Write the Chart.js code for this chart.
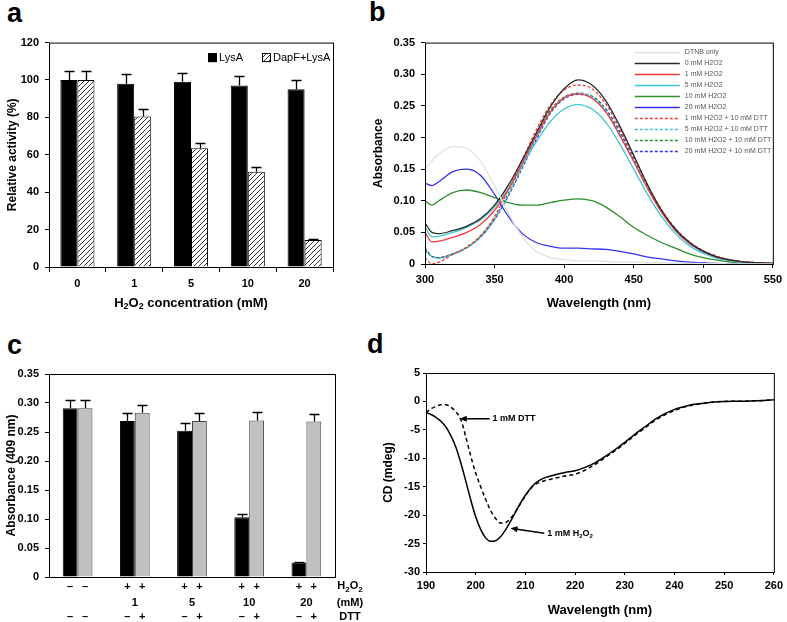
<!DOCTYPE html>
<html>
<head>
<meta charset="utf-8">
<script src="https://cdn.jsdelivr.net/npm/chart.js@4.4.1/dist/chart.umd.min.js"></script>
<style>
body { margin: 0; background: #fff; }
#wrap { position: relative; width: 787px; height: 622px; overflow: hidden; }
canvas { position: absolute; }
.tag { position: absolute; font: bold 27px "Liberation Sans", Arial, sans-serif; line-height: 27px; color: #000; }
</style>
</head>
<body>
<div id="wrap">
  <div class="tag" style="left:7px;top:0px">a</div>
  <div class="tag" style="left:369px;top:-1px">b</div>
  <div class="tag" style="left:7px;top:332px">c</div>
  <div class="tag" style="left:367px;top:331px">d</div>
  <canvas id="cA" width="345" height="290" style="left:0;top:30px"></canvas>
  <canvas id="cB" width="442" height="290" style="left:345px;top:30px"></canvas>
  <canvas id="cC" width="400" height="302" style="left:0;top:320px"></canvas>
  <canvas id="cD" width="442" height="302" style="left:345px;top:320px"></canvas>
</div>
<script>
// ---- panel a : relative activity ----
const concLabels = ['0', '1', '5', '10', '20'];
const lysA = [100, 98, 99, 97, 95];
const lysAErr = [5, 5, 5, 5, 4.8];
const dapfLysA = [100, 80.5, 63.5, 51, 14.5];
const dapfLysAErr = [5, 4, 3, 2.7, 0.7];

// ---- panel b : spectra ----
const wl = [300, 305, 310, 320, 330, 340, 350, 360, 370, 380, 390, 400, 410, 420, 430, 440, 450, 460, 470, 480, 490, 500, 510, 520, 530, 540, 550];
const dtnbOnly = [0.150, 0.163, 0.174, 0.186, 0.183, 0.162, 0.124, 0.080, 0.043, 0.020, 0.010, 0.007, 0.005, 0.005, 0.004, 0.003, 0.003, 0.002, 0.002, 0.001, 0.001, 0.001, 0.001, 0, 0, 0, 0];
const h0 = [0.065, 0.050, 0.048, 0.053, 0.060, 0.072, 0.093, 0.125, 0.165, 0.207, 0.248, 0.277, 0.291, 0.283, 0.258, 0.218, 0.172, 0.125, 0.085, 0.055, 0.034, 0.020, 0.011, 0.006, 0.003, 0.002, 0.001];
const h1 = [0.050, 0.035, 0.036, 0.042, 0.050, 0.063, 0.085, 0.118, 0.160, 0.202, 0.240, 0.263, 0.269, 0.262, 0.240, 0.203, 0.162, 0.119, 0.082, 0.053, 0.033, 0.020, 0.011, 0.006, 0.003, 0.002, 0.001];
const h5 = [0.058, 0.043, 0.044, 0.050, 0.058, 0.070, 0.090, 0.120, 0.157, 0.193, 0.225, 0.245, 0.252, 0.245, 0.224, 0.190, 0.150, 0.110, 0.075, 0.048, 0.029, 0.017, 0.009, 0.005, 0.002, 0.001, 0.001];
const h10 = [0.100, 0.093, 0.100, 0.113, 0.117, 0.113, 0.105, 0.097, 0.093, 0.093, 0.097, 0.101, 0.103, 0.100, 0.090, 0.075, 0.058, 0.045, 0.034, 0.025, 0.016, 0.010, 0.006, 0.003, 0.002, 0.001, 0.001];
const h20 = [0.128, 0.124, 0.130, 0.146, 0.150, 0.140, 0.110, 0.075, 0.048, 0.034, 0.028, 0.025, 0.025, 0.024, 0.023, 0.020, 0.016, 0.011, 0.008, 0.005, 0.003, 0.002, 0.001, 0, 0, 0, 0];
const h1Dtt = [0.010, 0.000, 0.003, 0.015, 0.027, 0.045, 0.075, 0.118, 0.165, 0.212, 0.251, 0.275, 0.283, 0.277, 0.253, 0.214, 0.170, 0.125, 0.086, 0.056, 0.035, 0.021, 0.012, 0.006, 0.003, 0.002, 0.001];
const h5Dtt = [0.020, 0.012, 0.009, 0.015, 0.025, 0.042, 0.070, 0.110, 0.155, 0.200, 0.240, 0.262, 0.270, 0.264, 0.242, 0.205, 0.163, 0.120, 0.082, 0.053, 0.033, 0.019, 0.011, 0.006, 0.003, 0.002, 0.001];
const h10Dtt = [0.022, 0.012, 0.010, 0.016, 0.026, 0.044, 0.072, 0.112, 0.158, 0.203, 0.243, 0.264, 0.270, 0.265, 0.243, 0.206, 0.164, 0.121, 0.083, 0.054, 0.034, 0.020, 0.011, 0.006, 0.003, 0.002, 0.001];
const h20Dtt = [0.025, 0.012, 0.010, 0.016, 0.026, 0.043, 0.070, 0.108, 0.152, 0.197, 0.238, 0.261, 0.268, 0.265, 0.245, 0.209, 0.167, 0.123, 0.085, 0.055, 0.035, 0.021, 0.012, 0.006, 0.003, 0.002, 0.001];

// ---- panel c : absorbance at 409 nm ----
const mmLabels = ['', '1', '5', '10', '20'];
const noDtt = [0.291, 0.269, 0.252, 0.103, 0.025];
const noDttErr = [0.015, 0.014, 0.013, 0.005, 0.001];
const withDtt = [0.291, 0.283, 0.269, 0.270, 0.268];
const withDttErr = [0.015, 0.014, 0.013, 0.014, 0.013];
const h2o2Signs = [['–', '–'], ['+', '+'], ['+', '+'], ['+', '+'], ['+', '+']];
const dttSigns = [['–', '–'], ['–', '+'], ['–', '+'], ['–', '+'], ['–', '+']];

// ---- panel d : CD spectra ----
const cdWl = [190, 191, 192, 193, 194, 195, 196, 197, 198, 199, 200, 201, 202, 203, 204, 205, 206, 207, 208, 209, 210, 211, 212, 213, 214, 216, 218, 220, 222, 224, 226, 228, 230, 232, 234, 236, 238, 240, 242, 244, 246, 248, 250, 252, 254, 256, 258, 260];
const cdH2o2 = [-2.0, -2.3, -2.8, -3.5, -4.5, -6.0, -8.0, -10.8, -14.0, -17.3, -20.3, -22.5, -24.0, -24.6, -24.5, -23.8, -22.6, -21.1, -19.5, -17.9, -16.5, -15.3, -14.4, -13.8, -13.4, -12.9, -12.5, -12.2, -11.6, -10.8, -9.7, -8.5, -7.2, -5.8, -4.5, -3.2, -2.2, -1.4, -0.9, -0.5, -0.3, -0.1, 0, 0.05, 0.05, 0.1, 0.15, 0.3];
const cdDtt = [-2.0, -1.3, -0.9, -0.6, -0.6, -1.0, -1.8, -3.2, -6.2, -9.6, -12.6, -15.0, -17.2, -19.2, -20.6, -21.4, -21.3, -20.6, -19.4, -18.0, -16.6, -15.4, -14.6, -14.2, -13.9, -13.5, -13.1, -12.8, -12.1, -11.1, -9.9, -8.7, -7.4, -6.0, -4.7, -3.4, -2.4, -1.6, -1.0, -0.6, -0.3, -0.1, 0, 0.05, 0.05, 0.1, 0.15, 0.3];

Chart.defaults.font.family = 'Arial, "Liberation Sans", sans-serif';
Chart.defaults.color = '#000';
const FONT = 'Arial, "Liberation Sans", sans-serif';
const tickFont = { size: 11, weight: 'bold' };

// texto con subindices: partes [texto, esSub]
function drawRich(ctx, parts, x, y, size, align) {
  const big = 'bold ' + size + 'px ' + FONT;
  const small = 'bold ' + Math.round(size * 0.7) + 'px ' + FONT;
  let w = 0;
  parts.forEach(p => { ctx.font = p[1] ? small : big; w += ctx.measureText(p[0]).width; });
  let cx = align === 'center' ? x - w / 2 : x;
  ctx.textAlign = 'left';
  ctx.textBaseline = 'middle';
  parts.forEach(p => {
    ctx.font = p[1] ? small : big;
    ctx.fillText(p[0], cx, p[1] ? y + size * 0.3 : y);
    cx += ctx.measureText(p[0]).width;
  });
}

// marco alrededor del area
const framePlugin = {
  id: 'frame',
  afterDraw(chart) {
    const { ctx, chartArea: a } = chart;
    ctx.save();
    ctx.strokeStyle = '#000';
    ctx.lineWidth = 1;
    ctx.strokeRect(a.left + 0.5, a.top + 0.5, a.right - a.left, a.bottom - a.top);
    ctx.restore();
  }
};

// barras de error (solo hacia arriba)
const errorBars = {
  id: 'errorBars',
  afterDatasetsDraw(chart) {
    const { ctx } = chart;
    const y = chart.scales.y;
    ctx.save();
    ctx.strokeStyle = '#000';
    ctx.lineWidth = 1.3;
    chart.data.datasets.forEach((ds, i) => {
      chart.getDatasetMeta(i).data.forEach((bar, j) => {
        const top = Math.round(y.getPixelForValue(ds.data[j] + ds.errors[j])) + 0.5;
        const x = Math.round(bar.x) + 0.5;
        ctx.beginPath();
        ctx.moveTo(x, bar.y);
        ctx.lineTo(x, top);
        ctx.moveTo(x - 5, top);
        ctx.lineTo(x + 5, top);
        ctx.stroke();
      });
    });
    ctx.restore();
  }
};

function hatchPattern() {
  const c = document.createElement('canvas');
  c.width = 5; c.height = 5;
  const g = c.getContext('2d');
  g.fillStyle = '#fff';
  g.fillRect(0, 0, 5, 5);
  g.strokeStyle = '#333';
  g.lineWidth = 1;
  g.beginPath();
  g.moveTo(0, 5); g.lineTo(5, 0);
  g.moveTo(-1, 1); g.lineTo(1, -1);
  g.moveTo(4, 6); g.lineTo(6, 4);
  g.stroke();
  return g.createPattern(c, 'repeat');
}

const axisGrid = { drawOnChartArea: false, drawTicks: true, tickLength: 4, color: '#000' };

// ================= a =================
const legendA = {
  id: 'legendA',
  afterDraw(chart) {
    const { ctx, chartArea: a } = chart;
    const xs = [a.left + 159, a.left + 213];
    ctx.save();
    chart.data.datasets.forEach((ds, i) => {
      const x = xs[i], y = a.top + 15;
      ctx.fillStyle = ds.backgroundColor;
      ctx.fillRect(x, y - 4.5, 9, 9);
      ctx.strokeStyle = '#000';
      ctx.lineWidth = 1;
      ctx.strokeRect(x + 0.5, y - 4, 8, 8);
      ctx.fillStyle = '#000';
      ctx.font = '11px ' + FONT;
      ctx.textAlign = 'left';
      ctx.textBaseline = 'middle';
      ctx.fillText(ds.label, x + 11, y);
    });
    // titulo del eje x
    drawRich(ctx, [['H', 0], ['2', 1], ['O', 0], ['2', 1], [' concentration (mM)', 0]],
      (a.left + a.right) / 2, a.bottom + 36, 13, 'center');
    ctx.restore();
  }
};

new Chart(document.getElementById('cA'), {
  type: 'bar',
  data: {
    labels: concLabels,
    datasets: [
      { label: 'LysA', data: lysA, errors: lysAErr, backgroundColor: '#000', borderColor: '#000', borderWidth: 1 },
      { label: 'DapF+LysA', data: dapfLysA, errors: dapfLysAErr, backgroundColor: hatchPattern(), borderColor: '#000', borderWidth: 1 }
    ]
  },
  options: {
    responsive: false,
    animation: false,
    layout: { padding: { top: 12, right: 12, left: 0, bottom: 0 } },
    datasets: { bar: { barPercentage: 1, categoryPercentage: 0.6 } },
    scales: {
      x: {
        grid: { ...axisGrid, offset: true, tickLength: 5 },
        border: { display: false },
        ticks: { font: tickFont, padding: 5 },
        afterFit(s) { s.height = 53; }
      },
      y: {
        min: 0, max: 120,
        grid: axisGrid,
        border: { display: false },
        ticks: { stepSize: 20, font: tickFont, padding: 6 },
        title: { display: true, text: 'Relative activity (%)', font: { size: 12, weight: 'bold' }, padding: { top: 5, bottom: 0 } },
        afterFit(s) { s.width = 49; }
      }
    },
    plugins: { legend: { display: false }, tooltip: { enabled: false } }
  },
  plugins: [errorBars, framePlugin, legendA]
});

// ================= b =================
const specSeries = [
  { label: 'DTNB only', values: dtnbOnly, color: '#e2e2e2', dash: [] },
  { label: '0 mM H2O2', values: h0, color: '#2a2a2a', dash: [] },
  { label: '1 mM H2O2', values: h1, color: '#f03c3c', dash: [] },
  { label: '5 mM H2O2', values: h5, color: '#3ec3d3', dash: [] },
  { label: '10 mM H2O2', values: h10, color: '#2e8f2e', dash: [] },
  { label: '20 mM H2O2', values: h20, color: '#3434f0', dash: [] },
  { label: '1 mM H2O2 + 10 mM DTT', values: h1Dtt, color: '#f03c3c', dash: [3, 2] },
  { label: '5 mM H2O2 + 10 mM DTT', values: h5Dtt, color: '#3ec3d3', dash: [3, 2] },
  { label: '10 mM H2O2 + 10 mM DTT', values: h10Dtt, color: '#2e8f2e', dash: [3, 2] },
  { label: '20 mM H2O2 + 10 mM DTT', values: h20Dtt, color: '#3434f0', dash: [3, 2] }
];

const legendB = {
  id: 'legendB',
  afterDraw(chart) {
    const { ctx, chartArea: a } = chart;
    ctx.save();
    chart.data.datasets.forEach((ds, i) => {
      const y = Math.round(a.top + 9 + 11 * i) + 0.5;
      ctx.strokeStyle = ds.borderColor;
      ctx.lineWidth = 1.5;
      ctx.setLineDash(ds.borderDash || []);
      ctx.beginPath();
      ctx.moveTo(a.right - 138, y);
      ctx.lineTo(a.right - 93, y);
      ctx.stroke();
      ctx.setLineDash([]);
      ctx.fillStyle = '#555';
      ctx.font = '7px ' + FONT;
      ctx.textAlign = 'left';
      ctx.textBaseline = 'middle';
      ctx.fillText(ds.label, a.right - 88, y);
    });
    ctx.restore();
  }
};

new Chart(document.getElementById('cB'), {
  type: 'line',
  data: {
    datasets: specSeries.map(s => ({
      label: s.label,
      data: wl.map((w, i) => ({ x: w, y: s.values[i] })),
      borderColor: s.color,
      borderDash: s.dash,
      borderWidth: 1.3,
      pointRadius: 0,
      fill: false,
      cubicInterpolationMode: 'monotone'
    }))
  },
  options: {
    responsive: false,
    animation: false,
    layout: { padding: { top: 11, right: 12, left: 0, bottom: 0 } },
    scales: {
      x: {
        type: 'linear', min: 300, max: 550,
        grid: axisGrid,
        border: { display: false },
        ticks: { stepSize: 50, font: tickFont, padding: 5 },
        title: { display: true, text: 'Wavelength (nm)', font: { size: 13, weight: 'bold' }, padding: { top: 0, bottom: 9 } },
        afterFit(s) { s.height = 56; }
      },
      y: {
        min: 0, max: 0.35,
        grid: axisGrid,
        border: { display: false },
        ticks: { stepSize: 0.05, font: tickFont, padding: 6 },
        title: { display: true, text: 'Absorbance', font: { size: 12, weight: 'bold' }, padding: { top: 26, bottom: 0 } },
        afterFit(s) { s.width = 80; }
      }
    },
    plugins: { legend: { display: false }, tooltip: { enabled: false } }
  },
  plugins: [framePlugin, legendB]
});

// ================= c =================
const condLabels = {
  id: 'condLabels',
  afterDraw(chart) {
    const { ctx, chartArea: a } = chart;
    const m0 = chart.getDatasetMeta(0).data;
    const m1 = chart.getDatasetMeta(1).data;
    ctx.save();
    ctx.fillStyle = '#000';
    mmLabels.forEach((g, j) => {
      const xs = [m0[j].x, m1[j].x];
      ctx.font = 'bold 11px ' + FONT;
      ctx.textAlign = 'center';
      ctx.textBaseline = 'middle';
      xs.forEach((x, k) => {
        ctx.fillText(h2o2Signs[j][k], x, a.bottom + 10);
        ctx.fillText(dttSigns[j][k], x, a.bottom + 40);
      });
      ctx.fillText(g, (xs[0] + xs[1]) / 2, a.bottom + 26);
    });
    drawRich(ctx, [['H', 0], ['2', 1], ['O', 0], ['2', 1]], a.right + 15, a.bottom + 9, 11, 'center');
    ctx.font = 'bold 11px ' + FONT;
    ctx.textAlign = 'center';
    ctx.fillText('(mM)', a.right + 15, a.bottom + 26);
    ctx.fillText('DTT', a.right + 15, a.bottom + 40);
    ctx.restore();
  }
};

new Chart(document.getElementById('cC'), {
  type: 'bar',
  data: {
    labels: mmLabels,
    datasets: [
      { label: 'no DTT', data: noDtt, errors: noDttErr, backgroundColor: '#000', borderColor: '#000', borderWidth: 1 },
      { label: 'DTT', data: withDtt, errors: withDttErr, backgroundColor: '#c0c0c0', borderColor: '#444', borderWidth: 1 }
    ]
  },
  options: {
    responsive: false,
    animation: false,
    layout: { padding: { top: 54, right: 65, left: 0, bottom: 0 } },
    datasets: { bar: { barPercentage: 1, categoryPercentage: 0.52 } },
    scales: {
      x: {
        grid: { display: false },
        border: { display: false },
        ticks: { display: false },
        afterFit(s) { s.height = 45; }
      },
      y: {
        min: 0, max: 0.35,
        grid: axisGrid,
        border: { display: false },
        ticks: { stepSize: 0.05, font: tickFont, padding: 6 },
        title: { display: true, text: 'Absorbance (409 nm)', font: { size: 12, weight: 'bold' }, padding: { top: 4, bottom: 0 } },
        afterFit(s) { s.width = 49; }
      }
    },
    plugins: { legend: { display: false }, tooltip: { enabled: false } }
  },
  plugins: [errorBars, framePlugin, condLabels]
});

// ================= d =================
const cdNotes = [
  { parts: [['1 mM DTT', 0]], head: [196.8, -3.05], tail: [202.8, -3.05] },
  { parts: [['1 mM H', 0], ['2', 1], ['O', 0], ['2', 1]], head: [207.0, -22.3], tail: [213.8, -23.2] }
];

const arrows = {
  id: 'arrows',
  afterDraw(chart) {
    const { ctx } = chart;
    const sx = chart.scales.x, sy = chart.scales.y;
    ctx.save();
    ctx.fillStyle = '#000';
    ctx.strokeStyle = '#000';
    ctx.lineWidth = 1.5;
    cdNotes.forEach(n => {
      const hx = sx.getPixelForValue(n.head[0]), hy = sy.getPixelForValue(n.head[1]);
      const tx = sx.getPixelForValue(n.tail[0]), ty = sy.getPixelForValue(n.tail[1]);
      const ang = Math.atan2(hy - ty, hx - tx);
      ctx.beginPath();
      ctx.moveTo(tx, ty);
      ctx.lineTo(hx - 5 * Math.cos(ang), hy - 5 * Math.sin(ang));
      ctx.stroke();
      ctx.beginPath();
      ctx.moveTo(hx, hy);
      ctx.lineTo(hx - 7 * Math.cos(ang) + 3 * Math.sin(ang), hy - 7 * Math.sin(ang) - 3 * Math.cos(ang));
      ctx.lineTo(hx - 7 * Math.cos(ang) - 3 * Math.sin(ang), hy - 7 * Math.sin(ang) + 3 * Math.cos(ang));
      ctx.closePath();
      ctx.fill();
      drawRich(ctx, n.parts, tx + 3, ty, 9, 'left');
    });
    ctx.restore();
  }
};

new Chart(document.getElementById('cD'), {
  type: 'line',
  data: {
    datasets: [
      { label: '1 mM H2O2', data: cdWl.map((w, i) => ({ x: w, y: cdH2o2[i] })), borderColor: '#000', borderWidth: 1.5, pointRadius: 0, cubicInterpolationMode: 'monotone' },
      { label: '1 mM DTT', data: cdWl.map((w, i) => ({ x: w, y: cdDtt[i] })), borderColor: '#000', borderWidth: 1.5, borderDash: [4, 3], pointRadius: 0, cubicInterpolationMode: 'monotone' }
    ]
  },
  options: {
    responsive: false,
    animation: false,
    layout: { padding: { top: 53, right: 10, left: 0, bottom: 0 } },
    scales: {
      x: {
        type: 'linear', min: 190, max: 260,
        grid: { ...axisGrid, tickLength: 3 },
        border: { display: false },
        ticks: { stepSize: 10, font: tickFont, padding: 4 },
        title: { display: true, text: 'Wavelength (nm)', font: { size: 13, weight: 'bold' }, padding: { top: 0, bottom: 4 } },
        afterFit(s) { s.height = 50; }
      },
      y: {
        min: -30, max: 5,
        grid: { ...axisGrid, tickLength: 3 },
        border: { display: false },
        ticks: { stepSize: 5, font: tickFont, padding: 3 },
        title: { display: true, text: 'CD (mdeg)', font: { size: 12, weight: 'bold' }, padding: { top: 36, bottom: 0 } },
        afterFit(s) { s.width = 81; }
      }
    },
    plugins: { legend: { display: false }, tooltip: { enabled: false } }
  },
  plugins: [framePlugin, arrows]
});
</script>
</body>
</html>
